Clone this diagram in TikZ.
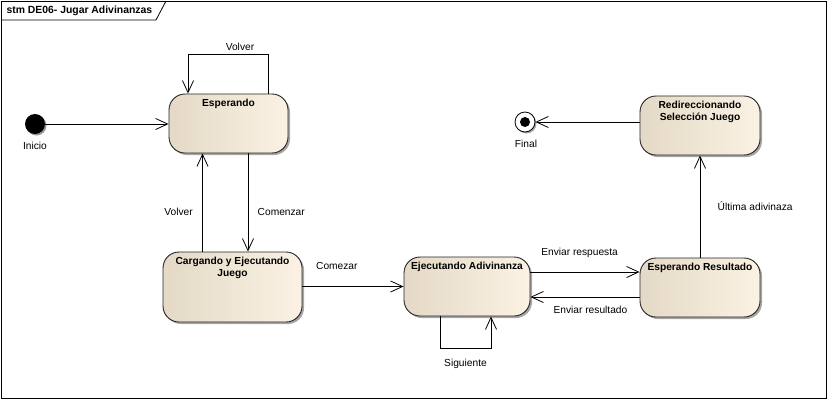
\documentclass[tikz,border=0pt]{standalone}
\usepackage{fontspec}
\setmainfont{Liberation Sans}
\usetikzlibrary{arrows.meta,shadows,calc}
\definecolor{stleft}{HTML}{E4D9C6}
\definecolor{stright}{HTML}{FBF2E4}
\tikzset{
  stbox/.style={draw=black!85, line width=0.9pt, rounded corners=16pt,
    left color=stleft, right color=stright,
    drop shadow={shadow xshift=2pt, shadow yshift=-2pt, opacity=0.35, fill=black},
    inner sep=0pt},
  sttitle/.style={font=\fontsize{10.2}{12.5}\selectfont\bfseries, align=center, anchor=north, inner sep=0pt},
  tr/.style={draw=black, line width=0.8pt, -{Straight Barb[length=12pt,width=11pt,line width=0.8pt]}},
  lbl/.style={font=\fontsize{10.2}{12}\selectfont, text=black},
}
\begin{document}
\begin{tikzpicture}[x=1pt,y=-1pt]
\useasboundingbox (0,0) rectangle (827,400);
% frame
\draw[line width=0.9pt] (1,1) rectangle (826,398.5);
\draw[line width=0.8pt] (1,20) -- (156,20) -- (166,1);
\node[font=\fontsize{10.4}{12}\selectfont\bfseries, anchor=west] (frametitle) at (3,10.5) {stm DE06- Jugar Adivinanzas};

% initial and final
\fill[black!40] (36.5,125.5) circle (10pt);
\node[circle, fill=black, minimum size=20pt, inner sep=0pt] (ini) at (35,124) {};
\node[lbl, anchor=north] (inilbl) at (35,139) {Inicio};
\node[circle, draw=black, line width=0.8pt, fill=white, minimum size=20pt, inner sep=0pt,
  drop shadow={shadow xshift=1.5pt, shadow yshift=-1.5pt, opacity=0.35, fill=black}] (fin) at (525,122) {};
\fill (fin.center) circle (5pt);
\node[lbl, anchor=north] (finlbl) at (526,137) {Final};

% states
\node[stbox, minimum width=119pt, minimum height=59pt] (esp) at (228.5,123.5) {};
\node[sttitle] (espt) at ([yshift=-5.5pt]esp.north) {Esperando};

\node[stbox, minimum width=139pt, minimum height=70pt] (carg) at (232.5,287) {};
\node[sttitle] (cargt) at ([yshift=-5pt]carg.north) {Cargando y Ejecutando\\Juego};

\node[stbox, minimum width=126pt, minimum height=59pt] (ejec) at (467,286.5) {};
\node[sttitle] (eject) at ([yshift=-5pt]ejec.north) {Ejecutando Adivinanza};

\node[stbox, minimum width=120pt, minimum height=59pt] (espres) at (700,287.5) {};
\node[sttitle] (espprest) at ([yshift=-5pt]espres.north) {Esperando Resultado};

\node[stbox, minimum width=120pt, minimum height=59pt] (redir) at (700,125.5) {};
\node[sttitle] (redirt) at ([yshift=-5pt]redir.north) {Redireccionando\\Selección Juego};

% transitions
\draw[tr] (ini) -- (ini -| esp.west);

\draw[tr] ([xshift=39.5pt]esp.north) -- ++(0,-39)
  -- ++(-80,0) node[lbl, above, pos=0.35] (volver1) {Volver}
  -- ([xshift=-40.5pt]esp.north);

\draw[tr] ([xshift=19.5pt]esp.south) -- ([xshift=19.5pt]esp.south |- carg.north)
  node[lbl, right=6pt, pos=0.6] (comenzar) {Comenzar};

\draw[tr] ([xshift=-26pt]esp.south |- carg.north) -- ([xshift=-26pt]esp.south)
  node[lbl, left=6pt, pos=0.4] (volver2) {Volver};

\draw[tr] (carg.east |- ejec) -- (ejec.west)
  node[lbl, above=13pt, pos=0.34] (comezar) {Comezar};

\draw[tr] ([xshift=-27pt]ejec.south) -- ++(0,31.5)
  -- ++(51,0) node[lbl, below=7pt, pos=0.5] (siguiente) {Siguiente}
  -- ([xshift=24pt]ejec.south);

\draw[tr] ([yshift=14.5pt]ejec.east) -- ([yshift=14.5pt]ejec.east -| espres.west)
  node[lbl, above=11pt, pos=0.45] (envresp) {Enviar respuesta};

\draw[tr] ([yshift=-9.5pt]espres.west) -- ([yshift=-9.5pt]espres.west -| ejec.east)
  node[lbl, below=5pt, pos=0.45] (envres) {Enviar resultado};

\draw[tr] (espres.north) -- (redir.south)
  node[lbl, right=14pt, pos=0.5] (ultima) {Última adivinaza};

\draw[tr] (redir.west |- fin) -- (fin.east);
\end{tikzpicture}
\end{document}
